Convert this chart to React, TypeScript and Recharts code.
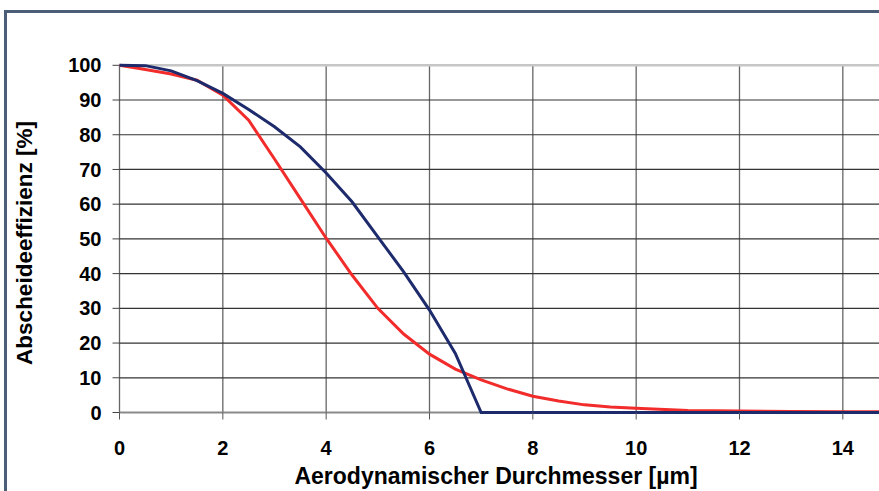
import React from 'react'
import {
  LineChart,
  Line,
  XAxis,
  YAxis,
  CartesianGrid,
  ReferenceLine,
} from 'recharts'

// aerodynamic diameter [µm]
const diameters = [
  0, 0.5, 1, 1.5, 2, 2.5, 3, 3.5, 4, 4.5, 5, 5.5, 6, 6.5, 7, 7.5, 8, 8.5, 9,
  9.5, 10, 11, 12, 13, 14, 15,
]
// blue curve, efficiency [%]
const blueSeries = [
  100, 99.9, 98.4, 95.6, 91.9, 87.3, 82.3, 76.5, 69, 60.7, 50.6, 40.5, 29.5,
  17, 0, 0, 0, 0, 0, 0, 0, 0, 0, 0, 0, 0,
]
// red curve, efficiency [%]
const redSeries = [
  100, 98.8, 97.5, 95.7, 91.4, 84.2, 73, 61.6, 50.2, 39.6, 30, 22.6, 16.8,
  12.5, 9.4, 6.8, 4.7, 3.3, 2.2, 1.6, 1.2, 0.6, 0.4, 0.3, 0.2, 0.2,
]
const xTicks = [0, 2, 4, 6, 8, 10, 12, 14]
const yTicks = [0, 10, 20, 30, 40, 50, 60, 70, 80, 90, 100]

const data = diameters.map((d, i) => ({
  d,
  blue: blueSeries[i],
  red: redSeries[i],
}))

const font = 'Arial, "Liberation Sans", Helvetica, sans-serif'
const tickStyle = { fill: '#000', fontSize: 20, fontWeight: 700, fontFamily: font }

export default function App() {
  return (
    <div
      style={{
        position: 'fixed',
        left: 0,
        top: 0,
        width: 879,
        height: 491,
        overflow: 'hidden',
        background: '#fff',
        fontFamily: font,
      }}
    >
      <div
        style={{
          position: 'absolute',
          left: 4,
          top: 10,
          width: 950,
          height: 600,
          border: '3px solid #4b5e78',
          boxSizing: 'border-box',
        }}
      />
      <div style={{ position: 'absolute', left: 0, top: 0 }}>
        <LineChart
          width={900}
          height={491}
          data={data}
          margin={{ top: 65.3, right: 5.5, left: 0, bottom: 0 }}
        >
          <CartesianGrid horizontal={false} stroke="#666" strokeWidth={1.3} />
          <CartesianGrid vertical={false} stroke="#333" strokeWidth={1.2} />
          <ReferenceLine y={100} stroke="#c6c6c6" strokeWidth={2.5} />
          <ReferenceLine y={0} stroke="#8a8a8a" strokeWidth={2} />
          <XAxis
            dataKey="d"
            type="number"
            domain={[0, 15]}
            ticks={xTicks}
            height={78.5}
            tickSize={7}
            tickMargin={21}
            tick={tickStyle}
            axisLine={false}
            tickLine={{ stroke: '#555' }}
            label={{
              content: () => (
                <text
                  x={496}
                  y={484}
                  textAnchor="middle"
                  fill="#000"
                  fontSize={23}
                  fontWeight={700}
                  fontFamily={font}
                >
                  Aerodynamischer Durchmesser [µm]
                </text>
              ),
            }}
          />
          <YAxis
            type="number"
            domain={[0, 100]}
            ticks={yTicks}
            width={119.5}
            tickSize={7}
            tickMargin={11}
            tick={tickStyle}
            axisLine={false}
            tickLine={{ stroke: '#444' }}
            label={{
              content: () => (
                <text
                  x={31.5}
                  y={243}
                  transform="rotate(-90 31.5 243)"
                  textAnchor="middle"
                  fill="#000"
                  fontSize={22.5}
                  fontWeight={700}
                  fontFamily={font}
                >
                  Abscheideeffizienz [%]
                </text>
              ),
            }}
          />
          <Line
            type="linear"
            dataKey="red"
            stroke="#f22b2b"
            strokeWidth={3}
            dot={false}
            isAnimationActive={false}
          />
          <Line
            type="linear"
            dataKey="blue"
            stroke="#1d2a6c"
            strokeWidth={3}
            dot={false}
            isAnimationActive={false}
          />
        </LineChart>
      </div>
    </div>
  )
}
